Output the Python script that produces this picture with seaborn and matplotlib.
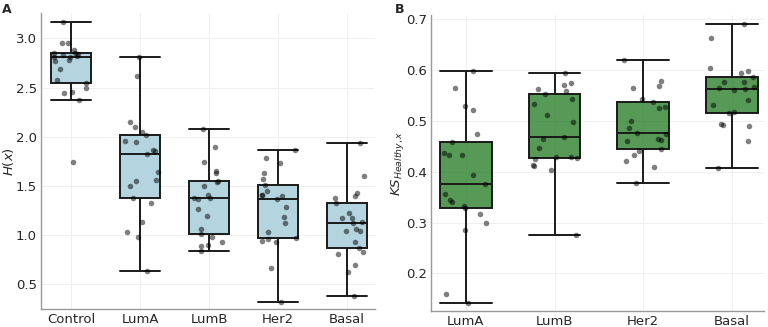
import numpy as np
import pandas as pd
import matplotlib
matplotlib.use("Agg")
import matplotlib.pyplot as plt
import seaborn as sns

# ---- data ----
groups_a = ["Control", "LumA", "LumB", "Her2", "Basal"]
h_control = [1.74, 2.37, 2.445, 2.455, 2.50, 2.55, 2.58, 2.69, 2.77, 2.78, 2.807,
             2.81, 2.82, 2.83, 2.84, 2.848, 2.855, 2.88, 2.95, 2.955, 3.17]
h_luma = [0.638, 0.984, 1.035, 1.133, 1.33, 1.38, 1.496, 1.555, 1.56, 1.645, 1.824,
          1.855, 1.865, 1.943, 1.953, 2.02, 2.045, 2.095, 2.146, 2.62, 2.81]
h_lumb = [0.842, 0.893, 0.90, 0.933, 0.984, 1.011, 1.062, 1.194, 1.268, 1.364, 1.374,
          1.374, 1.408, 1.499, 1.537, 1.55, 1.634, 1.651, 1.74, 1.898, 2.078]
h_her2 = [0.323, 0.663, 0.933, 0.943, 0.963, 0.967, 1.032, 1.12, 1.187, 1.282, 1.364,
          1.40, 1.408, 1.408, 1.451, 1.509, 1.57, 1.634, 1.736, 1.78, 1.862]
h_basal = [0.384, 0.622, 0.70, 0.81, 0.825, 0.866, 0.933, 1.04, 1.045, 1.065, 1.12,
           1.136, 1.17, 1.177, 1.228, 1.33, 1.374, 1.40, 1.425, 1.598, 1.939]

groups_b = ["LumA", "LumB", "Her2", "Basal"]
ks_luma = [0.142, 0.159, 0.285, 0.299, 0.317, 0.328, 0.332, 0.341, 0.345, 0.357, 0.376,
           0.393, 0.433, 0.433, 0.436, 0.459, 0.475, 0.522, 0.529, 0.565, 0.598]
ks_lumb = [0.276, 0.404, 0.412, 0.414, 0.424, 0.427, 0.428, 0.429, 0.446, 0.464, 0.469,
           0.498, 0.511, 0.533, 0.543, 0.553, 0.558, 0.562, 0.570, 0.574, 0.594]
ks_her2 = [0.377, 0.410, 0.421, 0.433, 0.441, 0.444, 0.460, 0.462, 0.465, 0.475, 0.477,
           0.486, 0.499, 0.526, 0.527, 0.537, 0.543, 0.564, 0.568, 0.579, 0.619]
ks_basal = [0.408, 0.461, 0.490, 0.492, 0.493, 0.515, 0.517, 0.531, 0.540, 0.561, 0.562,
            0.564, 0.567, 0.577, 0.577, 0.587, 0.595, 0.598, 0.603, 0.663, 0.690]

df_a = pd.DataFrame({
    "group": np.repeat(groups_a, [len(v) for v in [h_control, h_luma, h_lumb, h_her2, h_basal]]),
    "value": np.concatenate([h_control, h_luma, h_lumb, h_her2, h_basal]),
})
df_b = pd.DataFrame({
    "group": np.repeat(groups_b, [len(v) for v in [ks_luma, ks_lumb, ks_her2, ks_basal]]),
    "value": np.concatenate([ks_luma, ks_lumb, ks_her2, ks_basal]),
})

sns.set_style("white")
plt.rcParams["font.family"] = ["DejaVu Sans"]

FS = 9.5

fig = plt.figure(figsize=(7.68, 3.27), dpi=100)
axA = fig.add_axes([0.0534, 0.055, 0.435, 0.905])
axB = fig.add_axes([0.561, 0.049, 0.434, 0.905])

np.random.seed(3)


def panel(ax, df, order, color, alpha, ylabel, ylim, xlim, yticks, labelx):
    sns.boxplot(data=df, x="group", y="value", order=order, ax=ax, color=color,
                width=0.58, linecolor="#1a1a1a", linewidth=1.4, showfliers=False,
                capwidths=0.58)
    for p in ax.patches:
        fc = p.get_facecolor()
        p.set_alpha(None)
        p.set_facecolor((fc[0], fc[1], fc[2], alpha))
        p.set_edgecolor("#1a1a1a")
    sns.stripplot(data=df, x="group", y="value", order=order, ax=ax, color="black",
                  alpha=0.5, size=4.0, jitter=0.27, zorder=3)
    ax.set_ylim(*ylim)
    ax.set_xlim(*xlim)
    ax.set_yticks(yticks)
    ax.set_xlabel("")
    ax.set_ylabel(ylabel, fontsize=FS)
    ax.yaxis.set_label_coords(labelx, 0.5)
    ax.tick_params(axis="both", length=0, labelsize=FS, pad=3)
    ax.grid(True, color="#ececec", linewidth=0.6, zorder=0)
    ax.set_axisbelow(True)
    for s in ["top", "right"]:
        ax.spines[s].set_visible(False)
    for s in ["left", "bottom"]:
        ax.spines[s].set_color("#999999")
        ax.spines[s].set_linewidth(1.0)


panel(axA, df_a, groups_a, "#ADD8E6", 1.0, r"$H(x)$", (0.249, 3.257), (-0.44, 4.41),
      [0.5, 1.0, 1.5, 2.0, 2.5, 3.0], -0.075)
panel(axB, df_b, groups_b, "green", 0.7, r"$KS_{Healthy,x}$", (0.126, 0.708), (-0.395, 3.364),
      [0.2, 0.3, 0.4, 0.5, 0.6, 0.7], -0.075)

fig.text(0.003, 0.99, "A", fontsize=9, fontweight="bold", va="top", ha="left")
fig.text(0.514, 0.99, "B", fontsize=9, fontweight="bold", va="top", ha="left")

fig.savefig("out.png", dpi=100)
